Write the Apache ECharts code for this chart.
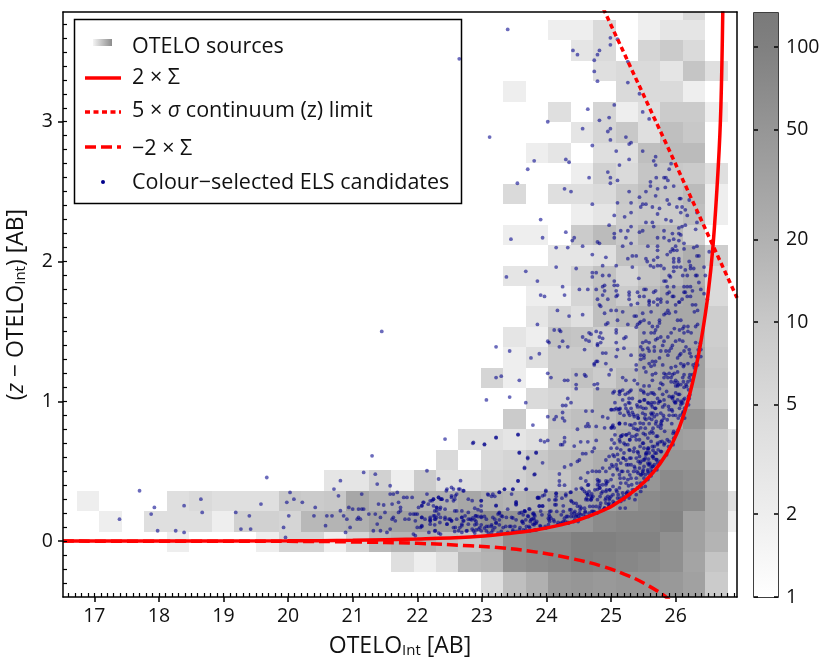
<!DOCTYPE html>
<html>
<head>
<meta charset="utf-8">
<style>
html, body { margin: 0; padding: 0; background: #fff; }
#chart { width: 830px; height: 664px; }
</style>
<script src="https://cdn.jsdelivr.net/npm/echarts@6/dist/echarts.min.js"></script>
</head>
<body>
<div id="chart"></div>
<script>
const fontName = 'Open Sans';
const xMin = 16.515, xMax = 26.95, yMin = -0.4, yMax = 3.785;
const xTicks = [17, 18, 19, 20, 21, 22, 23, 24, 25, 26];
const yTicks = [0, 1, 2, 3];
const barTicks = [1, 2, 5, 10, 20, 50, 100];
const barMax = 133;

// 2d histogram bins
const histXStart = 16.73, histXStep = 0.3475;
const histYLow = -0.371, histYStep = 0.1464;
// counts per bin, top row first
const histRows = [
	[0,0,0,0,0,0,0,0,0,0, 0,0,0,0,0,0,0,0,0,0, 0,0,0,0,0,2,2,5,0,0],
	[0,0,0,0,0,0,0,0,0,0, 0,0,0,0,0,0,0,0,0,0, 0,2,2,5,0,2,3,3,0,0],
	[0,0,0,0,0,0,0,0,0,0, 0,0,0,0,0,0,0,0,0,0, 0,0,3,5,0,6,9,5,0,0],
	[0,0,0,0,0,0,0,0,0,0, 0,0,0,0,0,0,0,0,0,0, 0,0,0,4,5,5,3,11,4,0],
	[0,0,0,0,0,0,0,0,0,0, 0,0,0,0,0,0,0,0,0,2, 0,0,0,0,5,5,5,2,0,0],
	[0,0,0,0,0,0,0,0,0,0, 0,0,0,0,0,0,0,0,0,0, 0,4,0,6,2,4,9,9,2,0],
	[0,0,0,0,0,0,0,0,0,0, 0,0,0,0,0,0,0,0,0,0, 0,0,3,6,10,4,13,10,0,0],
	[0,0,0,0,0,0,0,0,0,0, 0,0,0,0,0,0,0,0,0,0, 2,3,0,4,4,13,15,15,0,0],
	[0,0,0,0,0,0,0,0,0,0, 0,0,0,0,0,0,0,0,0,0, 0,0,2,7,5,11,10,9,4,0],
	[0,0,0,0,0,0,0,0,0,0, 0,0,0,0,0,0,0,0,0,5, 0,4,4,5,10,13,11,15,2,0],
	[0,0,0,0,0,0,0,0,0,0, 0,0,0,0,0,0,0,0,0,0, 0,0,2,3,9,10,9,13,2,0],
	[0,0,0,0,0,0,0,0,0,0, 0,0,0,0,0,0,0,0,0,2, 2,0,9,15,10,18,15,7,0,0],
	[0,0,0,0,0,0,0,0,0,0, 0,0,0,0,0,0,0,0,0,0, 0,3,3,4,12,13,15,22,8,0],
	[0,0,0,0,0,0,0,0,0,0, 0,0,0,0,0,0,0,0,0,3, 3,3,7,12,6,11,15,22,5,0],
	[0,0,0,0,0,0,0,0,0,0, 0,0,0,0,0,0,0,0,0,0, 2,2,6,13,9,15,24,27,5,0],
	[0,0,0,0,0,0,0,0,0,0, 0,0,0,0,0,0,0,0,0,0, 3,6,4,13,17,22,27,27,8,0],
	[0,0,0,0,0,0,0,0,0,0, 0,0,0,0,0,0,0,0,0,3, 2,12,11,8,9,22,27,27,8,0],
	[0,0,0,0,0,0,0,0,0,0, 0,0,0,0,0,0,0,0,0,2, 4,9,9,11,11,27,30,35,9,0],
	[0,0,0,0,0,0,0,0,0,0, 0,0,0,0,0,0,0,0,6,2, 0,9,12,9,15,24,30,35,10,0],
	[0,0,0,0,0,0,0,0,0,0, 0,0,0,0,0,0,0,0,0,0, 5,6,8,15,17,27,35,27,9,0],
	[0,0,0,0,0,0,0,0,0,0, 0,0,0,0,0,0,0,0,0,9, 0,11,13,15,22,30,27,55,17,0],
	[0,0,0,0,0,0,0,0,0,0, 0,0,0,0,0,0,0,4,4,3, 4,10,11,15,25,35,40,35,9,3],
	[0,0,0,0,0,0,0,0,0,0, 0,0,0,0,0,0,5,0,5,6, 10,13,16,22,27,45,50,50,10,0],
	[0,0,0,0,0,0,0,0,0,0, 0,3,3,7,2,9,4,4,6,7, 10,11,16,22,27,50,70,60,18,0],
	[2,0,0,0,4,5,4,4,4,10, 9,10,28,18,21,21,21,28,21,18, 21,28,31,38,50,70,80,70,21,4],
	[0,2,0,4,4,4,2,7,7,6, 16,18,21,31,35,38,38,45,60,50, 50,50,50,70,80,80,90,35,21,2],
	[0,0,0,0,2,0,0,0,2,6, 6,2,6,15,18,18,13,10,21,60, 80,80,100,100,90,90,60,35,18,0],
	[0,0,0,0,0,0,0,0,0,0, 0,0,0,0,4,2,4,16,18,60, 70,80,100,90,80,70,60,31,11,0],
	[0,0,0,0,0,0,0,0,0,0, 0,0,0,0,0,0,0,0,4,13, 21,45,50,45,50,50,45,35,9,0]
];

const sigmaPlus = [[16.515,0],[18,0.001],[20,0.002],[21,0.006],[22,0.015],[22.82,0.029],[23.33,0.05],[23.85,0.081],[24.36,0.132],[24.72,0.19],[25.03,0.255],[25.4,0.375],[25.65,0.49],[25.86,0.625],[26.02,0.77],[26.17,0.97],[26.3,1.21],[26.4,1.45],[26.5,1.76],[26.58,2.12],[26.66,2.68],[26.7,3.1],[26.73,3.79]];
const sigmaMinus = [[16.515,0],[18,-0.001],[20,-0.002],[21,-0.006],[22,-0.016],[22.82,-0.034],[23.33,-0.05],[23.85,-0.079],[24.36,-0.122],[24.87,-0.181],[25.28,-0.25],[25.59,-0.322],[25.82,-0.389],[25.9,-0.42]];
const continuumLimit = [[24.88,3.81],[25.91,2.787],[26.95,1.74]];

const elsFaint = [[17.39,.157],[17.7,.36],[17.93,.241],[17.88,.193],[17.98,.074],[18.26,.074],[18.39,.253],[18.39,.062],[18.65,.3],[18.67,.205],[19.19,.205],[19.27,.086],[19.4,.181],[19.42,.086],[19.58,.265],[19.67,.455],[19.93,.098],[19.96,.026],[19.98,.277],[20.01,.181],[20.03,.348],[20.09,.3],[20.22,.277],[20.4,.181],[20.42,.241],[20.58,.11],[20.6,.181],[20.68,.181],[20.71,.372],[20.78,.324],[20.81,.432],[20.81,.217],[20.86,.181],[20.89,.062],[20.91,.157],[20.94,.241],[20.96,.098],[21,.229],[21.07,.157],[21.09,.229],[21.09,.169],[21.12,.157],[21.14,.336],[21.14,.229],[21.17,.229],[21.17,.491],[21.25,.193],[21.3,.61],[21.32,.074],[21.35,.193],[21.35,.479],[21.38,.408],[21.38,.122],[21.4,.265],[21.43,.074],[21.43,.169],[21.48,.258],[21.5,.205],[21.53,.062],[21.58,.086],[21.58,.396],[21.58,.336],[21.61,.265],[21.61,.157],[21.63,.336],[21.63,.169],[21.66,.145],[21.69,.348],[21.71,.277],[21.71,.205],[21.74,.217],[21.74,.241],[21.79,.312],[21.81,.157],[21.84,.312],[21.87,.157],[21.89,.193],[21.92,.312],[21.94,.05],[21.97,.038],[21.94,.193],[21.97,.193],[22,.193],[21.97,.145],[22,.098],[22.05,.098],[22.07,.11],[22.02,.241],[22.07,.253],[22.1,.277],[22.07,.169],[22.15,.503],[22.15,.336],[22.18,.062],[22.2,.157],[22.2,.145],[22.23,.289],[22.25,.3],[22.25,.181],[22.28,.157],[22.3,.241],[22.28,.074],[22.33,.444],[22.33,.312],[22.3,.217],[22.33,.193],[22.3,.169],[22.36,.3],[22.36,.241],[22.38,.3],[22.36,.05],[22.36,.169],[22.43,.73],[22.46,.372],[22.46,.289],[22.43,.169],[22.46,.122],[22.49,.157],[22.51,.157],[22.53,.145],[22.53,.384],[22.53,.312],[22.59,.324],[22.61,.336],[22.64,.372],[22.67,.432],[22.72,.36],[22.59,.098],[22.64,.074],[22.69,.11],[22.69,.169],[22.74,.181],[22.72,.145],[22.77,.074],[22.79,.3],[22.82,.157],[22.79,.205],[22.85,.289],[22.87,.706],[22.9,.181],[22.85,.086],[22.92,.122]];

const elsFaintLow = [[22.07,.252],[22.09,.276],[22.17,.264],[22.2,.288],[22.25,.3],[22.33,.312],[22.38,.3],[22.25,.252],[22.3,.24],[22.43,.228],[22.35,.228],[22.27,.216],[22.53,.324],[22.58,.3],[22.56,.288],[22.45,.36],[22.56,.372],[22.66,.372],[22.58,.216],[22.61,.216],[22.69,.216],[22.71,.36],[22.07,.169],[22.12,.157],[22.2,.169],[22.27,.18],[22.27,.157],[22.2,.145],[22.2,.121],[22.27,.116],[22.35,.133],[22.43,.157],[22.46,.121],[22.53,.145],[22.61,.157],[22.69,.169],[22.71,.145],[22.69,.121],[22.79,.157],[22.84,.152],[22.79,.121],[22.07,.105],[22.27,.073],[22.33,.057],[22.56,.097],[22.58,.069],[22.66,.097],[22.69,.062],[22.76,.073],[22.87,.073],[22.89,.057],[22.95,.085],[23.1,.057],[23.15,.062],[23.25,.057],[23.04,.693],[23.22,.741],[23.56,.763],[23.58,.634],[23.84,.634],[23.71,.598],[23.66,.527],[23.82,.479],[23.56,.431],[23.35,.372],[23.48,.372],[23.69,.372],[23.27,.348],[23.09,.336],[23.17,.336],[23.46,.336],[23.87,.312],[22.99,.288],[22.99,.252],[23.22,.252],[23.53,.276],[23.53,.264],[23.4,.228],[23.74,.228],[23.66,.216],[23.61,.205],[23.25,.193],[23.27,.205],[23.3,.18],[23.17,.169],[22.99,.216],[22.91,.18],[22.99,.169],[23.07,.157],[22.89,.152],[23.38,.169],[23.46,.169],[23.53,.152],[23.71,.18],[23.77,.157],[23.82,.18],[23.2,.157],[23.27,.152],[23.22,.133],[23.15,.116],[23.07,.105],[22.97,.097],[22.89,.116],[22.99,.073],[23.07,.073],[23.2,.097],[23.33,.097],[23.3,.069],[23.43,.105],[23.4,.062],[23.51,.105],[23.59,.097],[23.53,.069],[23.48,.069],[23.64,.128],[23.69,.105],[23.74,.097],[23.79,.12],[23.84,.128],[23.82,.08],[23.64,.08],[23.74,.073]];

const elsUpper = [[23.4,3.66],[24.99,3.6],[25.1,3.59],[24.99,3.55],[24.41,3.51],[24.48,3.48],[24.82,3.51],[24.79,3.48],[24.74,3.44],[25.26,3.43],[24.74,3.36],[24.79,3.29],[25.26,3.28],[25.44,3.2],[25.05,3.12],[24.64,3.09],[25.49,3.07],[24.97,3.03],[24.82,3.01],[25.59,3.02],[24.02,3],[24.56,2.95],[24.99,2.95],[24.95,2.93],[23.12,2.89],[25.23,2.89],[24.99,2.87],[25.31,2.85],[25.28,2.84],[24.71,2.83],[25.49,2.79],[25.08,2.79],[24.3,2.73],[24.35,2.71],[23.81,2.72],[25.28,2.73],[25.69,2.75],[25.66,2.72],[25.93,2.7],[25.13,2.69],[25.69,2.69],[25.9,2.66],[23.71,2.66],[24.95,2.64],[24.99,2.6],[24.66,2.6],[25.1,2.58],[25.7,2.6],[25.82,2.6],[25.85,2.6],[25.88,2.58],[25.61,2.57],[25.61,2.54],[23.55,2.56],[24.99,2.56],[25.97,2.54],[25.84,2.53],[24.28,2.52],[25.72,2.52],[24.38,2.5],[25.28,2.5],[25.54,2.5],[25.44,2.46],[25.69,2.47],[26.06,2.45],[26.08,2.45],[26.21,2.44],[24.71,2.41],[25.1,2.42],[25.31,2.42],[25.49,2.41],[25.54,2.41],[25.87,2.44],[25.9,2.41],[25.46,2.39],[25.64,2.39],[25.75,2.38],[26.02,2.39],[26.1,2.39],[26.15,2.37],[26.08,2.35],[25.31,2.35],[25.72,2.34],[26.33,2.35],[26.18,2.33],[25.05,2.33],[25.21,2.32],[23.91,2.3],[25.85,2.3],[25.93,2.29],[25.54,2.28],[25.64,2.28],[26.33,2.28],[24.97,2.26],[26.15,2.26],[26.1,2.25],[26.05,2.24],[25.66,2.25],[25.31,2.25],[25.26,2.22],[25.15,2.22],[25.49,2.22],[25.44,2.21],[26.31,2.23],[24.3,2.21],[25.82,2.22],[25.95,2.2],[26.05,2.2],[26.08,2.19],[25.05,2.2],[25.05,2.17],[25.23,2.17],[25.72,2.17],[25.82,2.17],[23.94,2.17],[24.43,2.17],[23.45,2.16],[24.4,2.15],[25.9,2.15],[25.97,2.16],[26.05,2.15],[24.79,2.14],[24.82,2.13],[25.31,2.13],[26.13,2.13],[24.56,2.11],[25.18,2.11],[25.57,2.11],[25.72,2.11],[26,2.11],[26.33,2.11],[24.15,2.1],[24.33,2.1],[26.28,2.1],[25.95,2.09],[25.97,2.08],[26.02,2.08],[26.13,2.09],[25.72,2.08],[26.52,2.07],[25.87,2.05],[25.92,2.07],[24.71,2.05],[25.33,2.04],[25.39,2.04],[26.33,2.04],[26.36,2.04],[25.72,2.03],[24.92,2.03],[25.26,2.02],[25.54,2.02],[25.97,2.02],[26.05,2.02],[25.66,2.01],[25.97,1.997],[26.05,2],[25.56,2],[26.21,2],[25.72,1.97],[25.77,1.97],[25.82,1.95],[25.66,1.96],[25.61,1.97],[24.87,1.97],[25.08,1.97],[25.33,1.96],[24.15,1.96],[24.46,1.95],[25.97,1.96],[26.02,1.96],[26.08,1.96],[26.15,1.94],[26.23,1.97],[26.23,1.95],[26.28,1.95],[26.44,1.96],[23.68,1.93],[24.71,1.92],[24.77,1.92],[25.9,1.9],[25.92,1.89],[25.97,1.93],[24.87,1.9],[24.97,1.9],[24.71,1.89],[23.38,1.89],[26.31,1.9],[26.33,1.9],[26.46,1.9],[26.11,1.9],[26.18,1.9],[25.43,1.88],[23.86,1.86],[25.05,1.86],[25.82,1.86],[25.85,1.86],[26.36,1.85],[25.05,1.83],[25.1,1.83],[24.9,1.83],[24.87,1.82],[25.87,1.82],[25.97,1.82],[26.13,1.82],[26.18,1.82],[26.23,1.82],[24.25,1.82],[24.51,1.8],[24.64,1.8],[24.77,1.8],[24.9,1.79],[25.08,1.79],[26.39,1.8],[25.51,1.8],[25.54,1.8],[25.69,1.79],[25.66,1.78],[26.15,1.78],[26.13,1.78],[26.26,1.79],[26.44,1.77],[25.28,1.78],[25.41,1.78],[25.9,1.78],[25.87,1.77],[23.91,1.76],[23.97,1.75],[24.28,1.76],[24.87,1.76],[24.95,1.73],[24.79,1.73],[25.1,1.76],[25.08,1.75],[25.28,1.76],[25.44,1.75],[25.51,1.75],[25.28,1.73],[25.72,1.73],[25.77,1.73],[25.59,1.72],[25.66,1.71],[25.95,1.75],[25.97,1.75],[26.1,1.73],[26.18,1.75],[26.23,1.75],[26.49,1.73],[26.05,1.71],[25.87,1.71],[22.65,3.45],[21.45,1.5]];

const elsCrescent = [[24.17,1.65],[24.35,1.61],[24.56,1.62],[23.86,1.55],[24.12,1.51],[24.2,1.51],[24.22,1.5],[24.66,1.49],[24.56,1.46],[24.61,1.44],[24.66,1.43],[24.82,1.46],[24.87,1.45],[24.02,1.43],[24.04,1.42],[24.25,1.43],[24.79,1.41],[23.22,1.39],[24.33,1.39],[24.2,1.39],[24.59,1.37],[23.43,1.36],[23.89,1.34],[23.76,1.31],[24.02,1.2],[23.22,1.17],[23.3,1.18],[24.07,1.17],[24.28,1.15],[24.33,1.15],[23.58,1.15],[24.46,1.19],[24.59,1.19],[24.61,1.18],[24.46,1.12],[24.46,1.09],[23.07,1.01],[23.43,1.03],[23.68,.99],[24.33,1.02],[24.38,.99],[24.3,.97],[24.25,.97],[24.02,.89],[24.25,.92],[24.25,.88],[24.28,.86],[24.15,.89],[24.12,.87],[24.61,.93],[24.64,.84],[24.66,.82],[24.61,.82],[24.48,.8],[24.77,.82],[23.79,.83],[25.02,.82],[25.13,.84],[22.86,.7],[23.04,.69],[23.22,.74],[23.56,.76],[23.91,.72],[23.97,.71],[24.02,.72],[24.28,.74],[24.28,.71],[24.22,.69],[24.25,.69],[24.43,.68],[24.64,.71],[24.53,.71],[24.77,.72],[24.74,.665],[24.71,.64],[23.58,.63],[23.84,.63],[24.56,.625],[24.61,.625],[23.66,.52],[23.71,.59],[23.81,.475],[23.94,.56],[24.28,.53],[24.38,.546],[24.48,.57],[24.51,.58],[24.2,.48],[24.64,.49],[24.71,.5],[24.53,.45],[24.2,.43],[24.2,.4],[24.28,.4],[23.56,.43],[24.61,.43],[24.64,.4],[24.56,.37],[24.59,.355],[24.82,.43],[24.82,.4],[24.92,.43],[24.79,.37],[24.87,.355],[24.92,.355],[23.35,.37],[23.27,.35],[23.48,.37],[23.68,.37],[23.2,.32],[23.1,.33],[23.15,.32],[23.99,.355],[23.97,.33],[23.89,.31],[23.86,.31],[24.15,.34],[24.3,.335],[24.38,.35],[24.15,.32],[24.64,.33],[24.69,.32],[24.64,.295],[24.69,.295],[24.95,.32],[25,.32],[25.05,.27],[24.38,.29],[24.46,.27],[24.48,.25],[24.15,.295],[24.15,.26],[23.53,.28],[23.53,.26],[23.22,.255],[22.99,.29],[22.89,.235],[22.94,.225],[23.89,.25],[23.94,.25],[23.91,.215],[23.73,.23],[23.66,.215],[24.07,.215],[24.04,.19],[24.38,.225],[24.43,.2],[24.51,.2],[24.59,.235],[24.9,.235],[24.97,.27],[24.66,.2],[24.74,.21],[23.58,.2],[23.48,.165],[23.27,.2],[23.32,.176],[23.04,.176],[22.99,.176],[22.94,.176],[22.86,.165],[22.91,.14],[23.81,.19],[23.81,.152],[23.76,.152],[23.68,.152],[23.63,.14],[24.07,.164],[24.04,.152],[24.12,.14],[24.28,.164],[24.33,.176],[24.38,.176],[24.46,.176],[24.53,.19],[24.61,.176],[22.99,.116],[23.04,.093],[23.1,.105],[23.15,.105],[22.91,.08],[23.22,.128],[23.17,.08],[23.27,.116],[23.37,.105],[23.45,.105],[23.48,.08],[23.58,.08],[23.68,.08],[23.73,.105],[23.81,.116],[23.84,.08],[23.91,.105],[23.99,.093],[24.17,.116],[24.22,.128],[24.33,.133]];

const elsDense = [[24.82,1.69],[24.84,1.68],[25,1.65],[25.08,1.65],[24.9,1.63],[25.18,1.64],[25.31,1.69],[25.41,1.7],[25.59,1.71],[25.59,1.69],[25.72,1.69],[25.77,1.71],[26,1.69],[26.06,1.71],[26.26,1.69],[26.31,1.69],[26.34,1.65],[26.29,1.64],[25.88,1.65],[25.85,1.63],[25.9,1.63],[25.82,1.62],[25.49,1.63],[25.39,1.61],[25.62,1.64],[26.03,1.58],[26.08,1.58],[26,1.64],[25.36,1.61],[25.1,1.58],[24.95,1.56],[24.92,1.55],[25.46,1.57],[25.44,1.56],[25.41,1.55],[25.39,1.53],[25.51,1.58],[25.59,1.56],[25.64,1.535],[25.75,1.58],[25.75,1.56],[25.72,1.535],[25.69,1.51],[25.26,1.55],[26.34,1.55],[26.31,1.535],[26.19,1.535],[26.13,1.535],[26.11,1.52],[25.93,1.49],[25.98,1.52],[25.88,1.46],[26.06,1.51],[26.19,1.5],[26.13,1.49],[26.24,1.49],[25.08,1.51],[25.08,1.49],[24.77,1.5],[24.69,1.48],[24.84,1.49],[25.51,1.49],[25.62,1.49],[25.67,1.49],[25.23,1.46],[25.2,1.45],[25.72,1.45],[25.69,1.44],[25.49,1.42],[25.54,1.43],[25.59,1.42],[24.84,1.42],[24.79,1.4],[25.08,1.42],[25.82,1.43],[25.8,1.4],[25.77,1.46],[26,1.43],[26.06,1.44],[26.11,1.43],[25.95,1.4],[25.93,1.38],[26.31,1.42],[26.37,1.39],[26.39,1.37],[26.16,1.39],[26.21,1.37],[26.13,1.36],[25.46,1.39],[25.49,1.37],[25.57,1.38],[25.46,1.33],[25.51,1.33],[25.59,1.36],[25.2,1.38],[25.1,1.37],[25.67,1.39],[25.67,1.36],[25.77,1.36],[25.85,1.36],[25.9,1.36],[25.88,1.33],[26.39,1.32],[26.34,1.31],[26.24,1.32],[26.06,1.33],[26.08,1.34],[26.03,1.31],[24.87,1.345],[24.92,1.345],[25.31,1.33],[25.08,1.32],[24.77,1.285],[24.74,1.27],[24.79,1.285],[24.74,1.26],[24.92,1.27],[25.46,1.3],[25.51,1.31],[25.59,1.27],[25.64,1.285],[25.69,1.285],[25.75,1.31],[25.8,1.26],[25.62,1.25],[25.67,1.26],[26.08,1.27],[26.13,1.26],[26.19,1.27],[26.34,1.26],[26.31,1.27],[25.39,1.26],[25.51,1.24],[25.39,1.225],[25.93,1.24],[26,1.25],[26.03,1.21],[25,1.225],[25.69,1.2],[25.64,1.19],[25.54,1.21],[25.82,1.2],[25.85,1.19],[25.9,1.2],[25.95,1.19],[25.98,1.2],[25.88,1.17],[25.93,1.17],[25.82,1.17],[26.13,1.19],[26.11,1.17],[26.29,1.24],[26.26,1.19],[26.24,1.15],[24.97,1.19],[25.18,1.17],[25.23,1.15],[25.36,1.15],[25.41,1.125],[25.51,1.11],[25.59,1.11],[25.64,1.15],[25.77,1.13],[25.8,1.12],[25.75,1.09],[25.93,1.14],[25.98,1.135],[26,1.15],[26.03,1.135],[26.03,1.11],[26.08,1.12],[26,1.11],[26.21,1.17],[26.19,1.14],[26.16,1.12],[26.13,1.1],[24.74,1.12],[24.79,1.125],[24.79,1.09],[25.05,1.07],[25.13,1.07],[25.18,1.08],[25.13,1.05],[25.31,1.08],[25.26,1.06],[25.46,1.08],[25.51,1.06],[25.62,1.06],[25.67,1.05],[25.57,1.05],[25.9,1.035],[25.95,1.02],[26,1.06],[26.06,1.05],[26.03,1.01],[25.98,1],[26.08,1],[26.21,1.02],[25.8,1.05],[25.82,1.01],[25.75,1],[25.72,1.02],[25.67,.99],[25.33,1.02],[25.28,1.02],[25.44,1],[25.46,.96],[25.51,1.01],[25.57,.99],[25.62,.975],[25.08,.95],[25,.94],[25.05,.94],[25.13,.944],[25.23,.95],[25.31,.95],[25.41,.96],[25.33,.92],[25.54,.95],[25.64,.96],[25.69,.95],[25.8,.96],[25.9,.94],[26,.99],[26.06,.95],[26.08,.975],[26.11,.915],[24.87,.89],[24.71,.93],[24.95,.88],[25.2,.9],[25.26,.93],[25.36,.89],[25.41,.9],[25.49,.915],[25.62,.915],[25.59,.88],[25.67,.89],[25.77,.915],[25.82,.88],[25.9,.9],[25.95,.93],[26,.9]];

const elsInner = [[25.13,.844],[25.05,.81],[25,.81],[24.9,.81],[25.23,.76],[25.28,.77],[25.18,.76],[25.15,.75],[25.13,.725],[25.39,.8],[25.46,.81],[25.54,.87],[25.59,.84],[25.7,.856],[25.44,.725],[25.39,.725],[25.49,.7],[25.57,.737],[25.62,.713],[25.72,.75],[25.2,.7],[25.26,.69],[25.05,.7],[25,.665],[24.92,.58],[24.97,.606],[25.15,.653],[25.1,.62],[25.05,.606],[25.2,.63],[25.28,.653],[25.36,.665],[25.41,.64],[25.51,.665],[25.57,.653],[25.67,.677],[25.72,.69],[25.39,.594],[25.44,.606],[25.46,.57],[25.54,.618],[25.59,.63],[25.64,.606],[25.23,.58],[25.31,.594],[25.15,.558],[25.08,.546],[25.1,.51],[25.57,.558],[25.51,.534],[25.44,.522],[25.49,.498],[25.57,.498],[25.62,.522],[25.7,.582],[25.72,.558],[25.36,.534],[25.31,.546],[25.26,.498],[25.18,.498],[25.13,.475],[24.92,.498],[24.87,.522],[24.82,.498],[24.77,.498],[25,.44],[24.95,.427],[24.92,.403],[25.2,.45],[25.26,.44],[25.31,.45],[25.23,.415],[25.15,.415],[25.39,.45],[25.46,.475],[25.51,.45],[25.46,.415],[25.57,.44],[25.62,.467],[24.79,.44],[24.87,.403],[24.82,.38],[24.79,.403],[25.08,.367],[25.13,.38],[25.18,.344],[25.26,.355],[25.33,.367],[25.41,.38],[25.39,.332],[25.46,.355],[24.92,.308],[24.97,.296],[25.03,.332],[25.03,.284],[24.92,.272],[25.1,.308],[25.15,.284],[25.2,.296],[25.28,.308],[24.66,.355],[24.64,.332],[24.72,.32],[24.69,.296],[24.61,.296],[24.79,.296],[24.84,.272],[24.77,.248],[24.82,.236],[24.9,.236],[24.97,.248],[25.03,.26],[25.79,.863],[25.77,.839],[25.69,.839],[25.77,.808],[25.87,.868],[25.96,.9],[26.07,.9],[26.12,.927],[26.14,.951],[26.11,.987],[26.2,1.035],[26.22,1.046],[26.12,1.01],[25.87,.725],[25.79,.713],[25.72,.701],[25.82,.689],[25.9,.713],[25.97,.736],[25.97,.784],[26,.772],[25.57,.665],[25.64,.677],[25.54,.629],[25.7,.629],[25.77,.641],[25.66,.593],[25.52,.582],[25.6,.558],[25.64,.534],[25.71,.582],[25.57,.51],[25.49,.486],[25.63,.498]];

const elsExtra = [[25.14,.95],[25.22,.975],[25.29,.987],[25.27,.916],[25.4,.975],[25.5,.95],[25.58,.987],[25.68,.95],[25.73,.987],[25.35,.904],[25.42,.88],[25.53,.904],[25.63,.904],[25.71,.904],[25.29,.832],[25.35,.808],[25.45,.844],[25.53,.808],[25.65,.808],[25.73,.82],[25.32,.749],[25.4,.761],[25.53,.761],[25.65,.773],[25.29,.725],[25.45,.677],[25.6,.773],[25.53,.594],[25.58,.587],[25.68,.63],[25.73,.653],[25.35,.641],[25.19,.594],[25.27,.546],[25.03,.534],[24.98,.522],[25.45,.558],[25.35,.498],[25.4,.498],[25.53,.475],[25.6,.546],[25.67,.546],[25.71,.51],[25.4,.415],[25.32,.403],[25.27,.396],[25.53,.391],[25.47,.386],[25.36,.367],[25.24,.343],[25.11,.332],[25.29,.332],[25.37,.296],[25.14,.236],[25.22,.236],[25.03,.391],[24.98,.367],[24.85,.343],[24.93,.367],[24.67,.248],[24.72,.212],[24.6,.212],[24.52,.224],[24.47,.188],[24.39,.2],[24.31,.176],[24.23,.188],[24.16,.212],[24.05,.176],[23.93,.188],[23.8,.2],[23.85,.141],[24.05,.141],[24.26,.141],[24.52,.164],[24.44,.152],[24.65,.176],[26.12,1.14],[26.17,1.106],[26.2,1.082],[26.22,1.19],[26.27,1.26],[26.32,1.32],[26.35,1.368],[26.38,1.416],[26.22,1.344],[26.12,1.249],[26.04,1.118],[25.96,1.035],[25.89,.963]];

const elsNearCurve = [[25.03,1.06],[25.14,1.07],[25.22,1.05],[25.29,1.07],[25.5,1.07],[25.65,1.06],[25.86,1.07],[25.94,1.03],[26.04,1.05],[26.14,1.02],[25.06,.99],[25.18,1.01],[25.27,.99],[25.45,1],[25.52,1.01],[25.63,.99],[25.76,1],[25.83,.975],[25.99,.99],[26.09,.99],[26.2,.975],[25.01,.94],[25.11,.94],[25.29,.9],[25.42,.88],[25.52,.88],[25.65,.915],[25.81,.9],[25.94,.94],[26.12,.915],[25.14,.915],[25.32,.83],[25.22,.84],[25.37,.84],[25.5,.84],[25.63,.87],[25.78,.855],[25.78,.83],[25.94,.84],[26.04,.88],[26.14,.88],[25.03,.83],[25.13,.84],[25.01,.81],[25.16,.75],[25.24,.76],[25.29,.725],[25.42,.795],[25.5,.77],[25.63,.785],[25.7,.75],[25.83,.785],[25.96,.77],[26.04,.795],[25.06,.76],[25.01,.725],[25.14,.71],[25.37,.75],[25.5,.7],[25.58,.665],[25.65,.65],[25.76,.71],[25.83,.7],[25.89,.676],[25.96,.69],[25.22,.69],[25.29,.65],[25.09,.665],[25.42,.63],[25.55,.63],[25.65,.605],[25.78,.64],[25.86,.617],[25.03,.617],[25.11,.58],[25.19,.593],[25.29,.593],[25.42,.57],[25.5,.58],[25.58,.546],[25.65,.534],[25.76,.57],[25.01,.546],[25.09,.522],[25.24,.546],[25.37,.522],[25.5,.51],[25.42,.486],[25.58,.486],[25.65,.498],[25.16,.498],[25.29,.474],[25.03,.474],[25.47,.474],[23.94,.324],[23.87,.307],[23.99,.362],[24.15,.343],[24.24,.307],[24.3,.324],[24.37,.348],[24.46,.372],[24.54,.379],[24.65,.403],[24.7,.338],[24.62,.343],[24.8,.427],[24.83,.379],[24.75,.367],[24.93,.415],[24.98,.367],[25.09,.355],[25.14,.45],[25.19,.319],[25.24,.343],[24.04,.295],[24.13,.295],[24.13,.26],[24.26,.252],[24.39,.283],[24.42,.272],[24.52,.248],[24.62,.307],[24.7,.307],[24.83,.319],[24.91,.295],[24.98,.307],[25.06,.272],[25.14,.307],[23.89,.252],[23.94,.252],[23.67,.212],[23.79,.195],[24.05,.212],[24.26,.212],[24.36,.224],[24.44,.212],[24.54,.236],[24.6,.205],[24.72,.248],[24.83,.252],[24.96,.26],[24.88,.224],[23.64,.188],[23.62,.14],[23.72,.176],[23.8,.164],[24.03,.164],[24.11,.152],[24.18,.133],[24.29,.14],[24.42,.176],[24.49,.176],[24.57,.188],[24.7,.212],[24.78,.2],[23.75,.14],[23.82,.128],[23.9,.11],[23.98,.105],[24.03,.117],[24.24,.128],[24.34,.128],[24.42,.14],[24.49,.14]];

const elsPoints = [].concat(elsFaint, elsFaintLow, elsUpper, elsCrescent, elsDense, elsInner, elsExtra, elsNearCurve);

// grey level of the colour scale at a few counts
const scaleCounts = [1, 2, 5, 10, 20, 50, 100, 133];
const scaleGreys = [255, 238, 218, 200, 177, 150, 128, 122];

function greyOf(count) {
	const lv = Math.log10(count);
	let i = 0;
	while (i < scaleCounts.length - 2 && lv > Math.log10(scaleCounts[i + 1])) i++;
	const a = Math.log10(scaleCounts[i]), b = Math.log10(scaleCounts[i + 1]);
	const g = Math.round(scaleGreys[i] + (scaleGreys[i + 1] - scaleGreys[i]) * (lv - a) / (b - a));
	return `rgb(${g},${g},${g})`;
}

const histCells = [];
histRows.forEach((row, r) => {
	const yLow = histYLow + (histRows.length - 1 - r) * histYStep;
	row.forEach((count, k) => {
		if (!count) return;
		const x0 = histXStart + k * histXStep;
		// the last row runs down into the axis
		histCells.push([x0, x0 + histXStep, r === histRows.length - 1 ? yMin : yLow, yLow + histYStep, count]);
	});
});

const minorX = [], minorY = [];
for (let i = 166; i <= 269; i++) minorX.push(i / 10);
for (let i = -3; i <= 37; i++) minorY.push(i / 10);

const textColor = '#111';
const lineStyle = {color: '#000', width: 1.5};
const hiddenAxis = {axisLabel: {show: false}, splitLine: {show: false}, axisLine: {show: false, onZero: false}, axisTick: {show: false}};

function renderCell(params, api) {
	const a = api.coord([api.value(0), api.value(3)]);
	const b = api.coord([api.value(1), api.value(2)]);
	const x = Math.round(a[0]), y = Math.round(a[1]);
	return {
		type: 'rect',
		shape: {x, y, width: Math.round(b[0]) - x, height: Math.round(b[1]) - y},
		style: {fill: greyOf(api.value(4))}
	};
}

function renderColorbar(params, api) {
	const a = api.coord([0, Math.log10(barMax)]);
	const b = api.coord([1, 0]);
	const stops = [];
	for (let i = 0; i < scaleCounts.length; i++) {
		stops.push({offset: Math.log10(scaleCounts[i]) / Math.log10(barMax), color: greyOf(scaleCounts[i])});
	}
	return {
		type: 'rect',
		shape: {x: a[0], y: a[1], width: b[0] - a[0], height: b[1] - a[1]},
		style: {fill: new echarts.graphic.LinearGradient(0, 1, 0, 0, stops)}
	};
}

const legendText = {fontFamily: fontName, fontSize: 21.5, fill: '#111'};
const legendRich = {i: {fontFamily: fontName, fontStyle: 'italic', fontSize: 21.5, fill: '#111'}};
function legendLabel(text, y) {
	return {type: 'text', x: 132, y: y, style: Object.assign({text: text, verticalAlign: 'middle', rich: legendRich}, legendText)};
}
function legendLine(y, dash) {
	return {type: 'line', shape: {x1: 85, y1: y, x2: 121, y2: y}, style: {stroke: '#ff0000', lineWidth: 3.5, lineDash: dash}};
}

const chart = echarts.init(document.getElementById('chart'), null, {renderer: 'canvas'});
chart.setOption({
	animation: false,
	backgroundColor: '#fff',
	textStyle: {fontFamily: fontName},
	grid: [
		{left: 63, top: 12, width: 674, height: 585, show: false, outerBoundsMode: 'none'},
		{left: 754, top: 13, width: 24, height: 584, show: true, borderColor: '#000', borderWidth: 1.5, backgroundColor: 'transparent', outerBoundsMode: 'none'}
	],
	xAxis: [
		{
			type: 'value', gridIndex: 0, min: xMin, max: xMax, position: 'bottom', z: 6,
			name: 'OTELO{sub|Int} [AB]', nameLocation: 'middle', nameGap: 38,
			nameTextStyle: {
				fontFamily: fontName, fontSize: 23, color: textColor,
				rich: {sub: {fontFamily: fontName, fontSize: 15, color: textColor, verticalAlign: 'bottom', padding: [8, 0, 0, 0]}}
			},
			axisLine: {onZero: false, lineStyle},
			axisTick: {show: true, length: 5, customValues: xTicks, lineStyle},
			axisLabel: {customValues: xTicks, color: textColor, fontSize: 19.5, margin: 9, fontFamily: fontName},
			splitLine: {show: false}
		},
		Object.assign({}, hiddenAxis, {
			type: 'value', gridIndex: 0, min: xMin, max: xMax, position: 'bottom', z: 6,
			axisTick: {show: true, inside: true, length: 4, customValues: minorX, lineStyle: {color: '#000', width: 1.2}}
		}),
		Object.assign({}, hiddenAxis, {
			type: 'value', gridIndex: 0, min: xMin, max: xMax, position: 'top', z: 6,
			axisLine: {show: true, onZero: false, lineStyle}
		}),
		Object.assign({}, hiddenAxis, {type: 'value', gridIndex: 1, min: 0, max: 1, position: 'bottom'})
	],
	yAxis: [
		{
			type: 'value', gridIndex: 0, min: yMin, max: yMax, position: 'left', z: 6,
			name: '({i|z} \u2212 OTELO{sub|Int}) [AB]', nameLocation: 'middle', nameGap: 35,
			nameTextStyle: {
				fontFamily: fontName, fontSize: 23, color: textColor,
				rich: {
					i: {fontFamily: fontName, fontSize: 23, fontStyle: 'italic', color: textColor},
					sub: {fontFamily: fontName, fontSize: 15, color: textColor, verticalAlign: 'bottom', padding: [8, 0, 0, 0]}
				}
			},
			axisLine: {onZero: false, lineStyle},
			axisTick: {show: true, length: 5, customValues: yTicks, lineStyle},
			axisLabel: {customValues: yTicks, color: textColor, fontSize: 19.5, margin: 10, fontFamily: fontName},
			splitLine: {show: false}
		},
		Object.assign({}, hiddenAxis, {
			type: 'value', gridIndex: 0, min: yMin, max: yMax, position: 'left', z: 6,
			axisTick: {show: true, inside: true, length: 4, customValues: minorY, lineStyle: {color: '#000', width: 1.2}}
		}),
		Object.assign({}, hiddenAxis, {
			type: 'value', gridIndex: 0, min: yMin, max: yMax, position: 'right', z: 6,
			axisLine: {show: true, onZero: false, lineStyle}
		}),
		{
			type: 'value', gridIndex: 1, min: 0, max: Math.log10(barMax), position: 'right', z: 6,
			axisLine: {show: false},
			axisTick: {show: true, length: 4, customValues: barTicks.map(v => Math.log10(v)), lineStyle},
			axisLabel: {
				customValues: barTicks.map(v => Math.log10(v)),
				formatter: v => String(Math.round(Math.pow(10, v))),
				color: textColor, fontSize: 19.5, margin: 8, fontFamily: fontName
			},
			splitLine: {show: false}
		},
		Object.assign({}, hiddenAxis, {
			type: 'value', gridIndex: 1, min: 0, max: Math.log10(barMax), position: 'right', z: 6,
			axisTick: {show: true, inside: true, length: 4, customValues: barTicks.map(v => Math.log10(v)), lineStyle}
		})
	],
	series: [
		{type: 'custom', name: 'OTELO sources', xAxisIndex: 0, yAxisIndex: 0, clip: true, silent: true, z: 1, renderItem: renderCell, encode: {x: [0, 1], y: [2, 3]}, data: histCells},
		{type: 'scatter', name: 'Colour-selected ELS candidates', xAxisIndex: 0, yAxisIndex: 0, silent: true, z: 3, symbolSize: 3.8, itemStyle: {color: '#00008b', opacity: 0.58}, data: elsPoints},
		{type: 'line', name: '-2 x Sigma', xAxisIndex: 0, yAxisIndex: 0, silent: true, z: 4, showSymbol: false, smooth: 0.4, lineStyle: {color: '#ff0000', width: 3.5, type: [11, 5]}, data: sigmaMinus},
		{type: 'line', name: '5 x sigma continuum (z) limit', xAxisIndex: 0, yAxisIndex: 0, silent: true, z: 4, showSymbol: false, lineStyle: {color: '#ff0000', width: 3.5, type: [5, 3.5]}, data: continuumLimit},
		{type: 'line', name: '2 x Sigma', xAxisIndex: 0, yAxisIndex: 0, silent: true, z: 5, showSymbol: false, smooth: 0.4, lineStyle: {color: '#ff0000', width: 3.5}, data: sigmaPlus},
		{type: 'custom', name: 'colorbar', xAxisIndex: 3, yAxisIndex: 3, silent: true, z: 1, renderItem: renderColorbar, encode: {x: 0, y: 1}, data: [[0, 0]]}
	],
	graphic: [{
		type: 'group', z: 20, silent: true,
		children: [
			{type: 'rect', shape: {x: 74.5, y: 19.5, width: 387, height: 184}, style: {fill: '#fff', stroke: '#000', lineWidth: 1.5}},
			{type: 'rect', shape: {x: 93, y: 39, width: 19, height: 7}, style: {fill: new echarts.graphic.LinearGradient(0, 0, 1, 0, [{offset: 0, color: '#f4f4f4'}, {offset: 1, color: '#8c8c8c'}])}},
			legendLabel('OTELO sources', 47),
			legendLine(78),
			legendLabel('2 \u00d7 \u03a3', 78),
			legendLine(112, [5, 3.5]),
			legendLabel('5 \u00d7 {i|\u03c3} continuum (z) limit', 111),
			legendLine(147, [11, 5]),
			legendLabel('\u22122 \u00d7 \u03a3', 149),
			{type: 'circle', shape: {cx: 103, cy: 182, r: 2}, style: {fill: '#00008b'}},
			legendLabel('Colour\u2212selected ELS candidates', 183)
		]
	}]
});
</script>
</body>
</html>
